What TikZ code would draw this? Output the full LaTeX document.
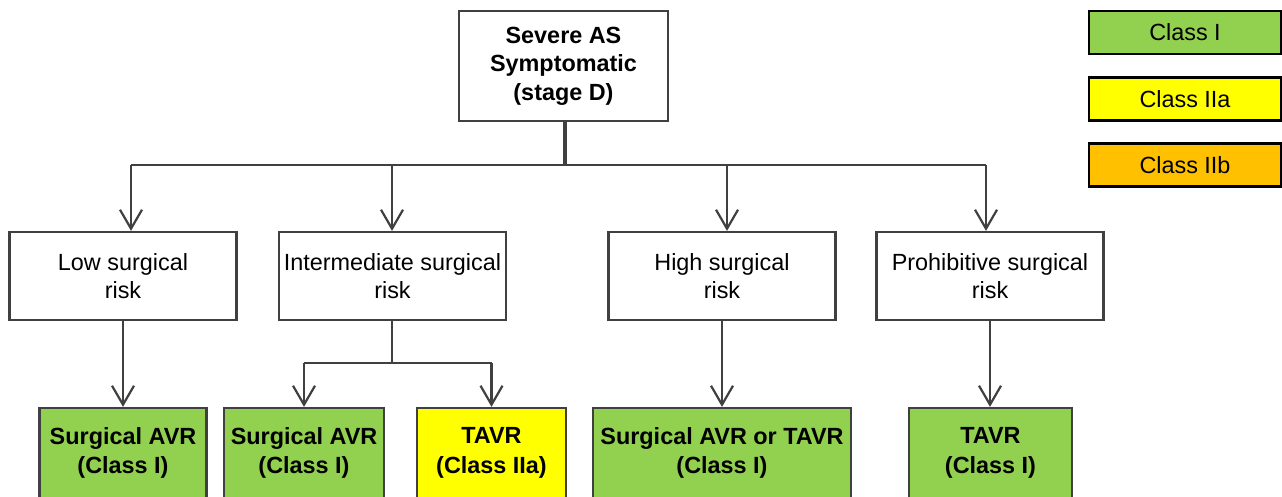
\documentclass[tikz,border=0pt]{standalone}
\usepackage{fontspec}
\setmainfont{Liberation Sans}
\usetikzlibrary{arrows.meta}
\definecolor{lc}{HTML}{404040}
\definecolor{cgreen}{HTML}{92D050}
\definecolor{cyellow}{HTML}{FFFF00}
\definecolor{corange}{HTML}{FFC000}
\begin{document}
\begin{tikzpicture}[x=1pt,y=-1pt,
  box/.style={draw=lc,line width=2.2pt,inner sep=0pt,align=center,font=\fontsize{23.4}{28.6}\selectfont},
  risk/.style={box,fill=white,minimum width=227pt,minimum height=88pt},
  res/.style={box,font=\fontsize{23.4}{29.5}\selectfont\bfseries,minimum height=90pt},
  leg/.style={box,draw=black,minimum width=192pt,minimum height=43pt},
  conn/.style={draw=lc,line width=2.2pt},
  stem/.style={draw=lc,line width=4.5pt},
  arr/.style={conn,-{Straight Barb[length=19pt,width=22pt,line width=2.2pt]}}]
\useasboundingbox (0,0) rectangle (1282,496);
\clip (0,0) rectangle (1282,496);
\fill[white] (0,0) rectangle (1282,496);

% top node
\node[box,font=\fontsize{23.4}{28.4}\selectfont\bfseries,minimum width=209pt,minimum height=110pt] (top) at (563.5,66) {Severe AS\\Symptomatic\\(stage D)};

% risk nodes
\node[risk] (low) at (123,276) {Low surgical\\risk};
\node[risk] (inter) at (392.5,276) {Intermediate surgical\\risk};
\node[risk] (high) at (722,276) {High surgical\\risk};
\node[risk] (proh) at (990,276) {Prohibitive surgical\\risk};

% result nodes
\node[res,fill=cgreen,minimum width=167pt] (r1) at (123,453) {Surgical AVR\\(Class I)};
\node[res,fill=cgreen,minimum width=160pt] (r2) at (304,453) {Surgical AVR\\(Class I)};
\node[res,fill=cyellow,minimum width=149pt] (r3) at (491.5,453) {TAVR\\(Class IIa)};
\node[res,fill=cgreen,minimum width=258pt] (r4) at (722,453) {Surgical AVR or TAVR\\(Class I)};
\node[res,fill=cgreen,minimum width=163pt] (r5) at (990.5,453) {TAVR\\(Class I)};

% legend
\node[leg,fill=cgreen] (l1) at (1185,32.5) {Class I};
\node[leg,fill=cyellow] (l2) at (1185,99) {Class IIa};
\node[leg,fill=corange] (l3) at (1185,165) {Class IIb};

% connectors from top
\coordinate (hub) at (565,165);
\coordinate (b1) at (131,165);
\coordinate (b2) at (392,165);
\coordinate (b3) at (727,165);
\coordinate (b4) at (986,165);
\draw[stem] (top.south -| hub) -- (hub);
\draw[conn] (b1) -- (b4);
\draw[arr] (b1) -- (b1 |- low.north);
\draw[arr] (b2) -- (b2 |- inter.north);
\draw[arr] (b3) -- (b3 |- high.north);
\draw[arr] (b4) -- (b4 |- proh.north);

% lower connectors
\draw[arr] (low.south) -- (r1.north);
\coordinate (split) at (392,363);
\draw[conn] (inter.south -| split) -- (split);
\draw[conn] (r2.north |- split) -- (r3.north |- split);
\draw[arr] (r2.north |- split) -- (r2.north);
\draw[arr] (r3.north |- split) -- (r3.north);
\draw[arr] (high.south) -- (r4.north);
\draw[arr] (proh.south) -- (proh.south |- r5.north);
\end{tikzpicture}
\end{document}
